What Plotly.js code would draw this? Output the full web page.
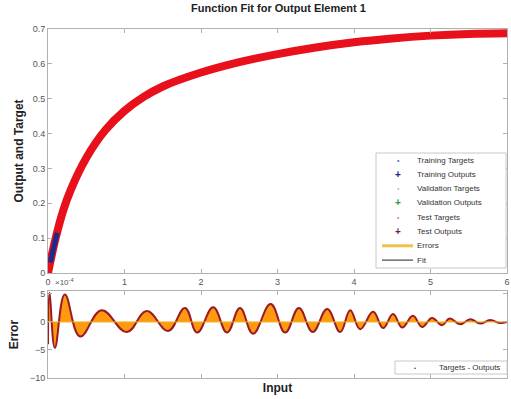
<!DOCTYPE html>
<html><head><meta charset="utf-8">
<script src="https://cdn.plot.ly/plotly-3.0.1.min.js"></script>
<style>html,body{margin:0;padding:0;background:#fff}#c{width:511px;height:399px}</style>
</head><body><div id="c"></div>
<script>
// Fit curve
const fitX = [0, 0.1, 0.2, 0.3, 0.5, 0.75, 1, 1.25, 1.5, 2, 2.5, 3, 3.5, 4, 4.5, 5, 5.5, 6];
const fitY = [0, 0.1, 0.18, 0.24, 0.33, 0.41, 0.465, 0.505, 0.535, 0.575, 0.605, 0.628, 0.647, 0.662, 0.673, 0.681, 0.686, 0.688];
// Training points visible near the origin
const trainX = [0.03, 0.06, 0.09, 0.12];
const trainY = [0.03, 0.06, 0.09, 0.115];
// Error extrema (x, error in 1e-4)
const errX = [0, 0.02, 0.09, 0.22, 0.42, 0.70, 1.03, 1.29, 1.57, 1.79, 1.95, 2.16, 2.34, 2.51, 2.68, 2.91, 3.10, 3.28, 3.46, 3.65, 3.82, 3.95, 4.08, 4.25, 4.38, 4.51, 4.63, 4.77, 4.89, 5.02, 5.15, 5.25, 5.39, 5.52, 5.65, 5.78, 5.91, 6];
const errY = [-4, 5.2, -4.6, 4.9, -2.6, 2.1, -1.8, 1.95, -1.6, 2.5, -1.9, 2.6, -1.9, 2.5, -2.1, 3.2, -1.9, 2.5, -1.8, 2.3, -1.8, 2.1, -1.3, 1.8, -1.1, 1.4, -1.0, 1.1, -0.9, 0.7, -0.6, 0.6, -0.4, 0.5, -0.3, 0.35, -0.2, 0];
const xTicks = [0, 1, 2, 3, 4, 5, 6];
const yTicks = [0, 0.1, 0.2, 0.3, 0.4, 0.5, 0.6, 0.7];
const eTicks = [-10, -5, 0, 5];
// Legend entries
const legNames = ['Training Targets', 'Training Outputs', 'Validation Targets', 'Validation Outputs', 'Test Targets', 'Test Outputs', 'Errors', 'Fit'];
const legSyms = ['•', '+', '•', '+', '•', '+', 'line', 'line'];
const legColors = ['#3f6fd6', '#1c237e', '#8fd8c0', '#2e9b3e', '#f08060', '#6a1e5a', '#efc24a', '#222'];
const leg2Name = 'Targets - Outputs';

const traces = [
  {x: fitX, y: fitY, mode: 'lines', line: {color: '#000', width: 1}, xaxis: 'x', yaxis: 'y'},
  {x: fitX, y: fitY, mode: 'lines', line: {color: '#e8101a', width: 8, shape: 'spline'}, xaxis: 'x', yaxis: 'y'},
  {x: trainX, y: trainY, mode: 'lines', line: {color: '#1c2a8c', width: 5}, xaxis: 'x', yaxis: 'y'},
  {x: errX, y: errY, mode: 'lines', fill: 'tozeroy', fillcolor: '#ff9a10', line: {color: '#9a1c22', width: 2, shape: 'spline', smoothing: 1.2}, xaxis: 'x2', yaxis: 'y2'},
  {x: [0, 6], y: [0, 0], mode: 'lines', line: {color: '#edb120', width: 1}, xaxis: 'x2', yaxis: 'y2'}
];

const F = 'Liberation Sans, Arial, sans-serif';
const ax = {
  showline: true, mirror: 'allticks', linecolor: '#b0b0b0', linewidth: 1,
  ticks: 'inside', ticklen: 4, tickcolor: '#b0b0b0', zeroline: false, showgrid: false,
  tickfont: {family: F, size: 9, color: '#555'}
};
const titleFont = {family: F, size: 12, color: '#222'};

// paper coordinate helpers (plot area: x 48..507, y 29..378 px)
const px = v => (v - 48) / 459;
const py = v => (378 - v) / 349;

const shapes = [
  {type: 'rect', xref: 'paper', yref: 'paper', x0: px(376), x1: px(506), y0: py(268), y1: py(153), fillcolor: '#fff', line: {color: '#c8c8c8', width: 1}},
  {type: 'rect', xref: 'paper', yref: 'paper', x0: px(395), x1: px(507), y0: py(374), y1: py(361), fillcolor: '#fff', line: {color: '#c8c8c8', width: 1}}
];
const annotations = [
  {xref: 'paper', yref: 'paper', x: 0.01, y: 0.255, xanchor: 'left', yanchor: 'bottom', showarrow: false,
   text: '×10<sup>-4</sup>', font: {family: F, size: 8, color: '#555'}}
];
legNames.forEach((n, i) => {
  const yy = 160 + i * 14.3;
  annotations.push({xref: 'paper', yref: 'paper', x: px(415), y: py(yy), xanchor: 'left', yanchor: 'middle', showarrow: false,
    text: n, font: {family: F, size: 8, color: '#333'}});
  if (legSyms[i] === 'line') {
    shapes.push({type: 'line', xref: 'paper', yref: 'paper', x0: px(382), x1: px(413), y0: py(yy), y1: py(yy),
      line: {color: legColors[i], width: i === 6 ? 3 : 1}});
  } else {
    annotations.push({xref: 'paper', yref: 'paper', x: px(398), y: py(yy), xanchor: 'center', yanchor: 'middle', showarrow: false,
      text: legSyms[i] === '+' ? '<b>+</b>' : '•', font: {family: F, size: legSyms[i] === '+' ? 10 : 7, color: legColors[i]}});
  }
});
annotations.push({xref: 'paper', yref: 'paper', x: px(437), y: py(367.5), xanchor: 'left', yanchor: 'middle', showarrow: false,
  text: leg2Name, font: {family: F, size: 8, color: '#333'}});
annotations.push({xref: 'paper', yref: 'paper', x: px(415), y: py(367.5), xanchor: 'center', yanchor: 'middle', showarrow: false,
  text: '•', font: {family: F, size: 6, color: '#a02020'}});

const layout = {
  width: 511, height: 399,
  margin: {l: 48, r: 4, t: 29, b: 21},
  paper_bgcolor: '#fff', plot_bgcolor: '#fff',
  showlegend: false,
  title: {text: '<b>Function Fit for Output Element 1</b>', x: 0.545, xanchor: 'center', y: 0.99, yanchor: 'top',
          font: {family: F, size: 11, color: '#222'}},
  xaxis: Object.assign({}, ax, {domain: [0, 1], range: [0, 6], tickvals: xTicks, anchor: 'y'}),
  yaxis: Object.assign({}, ax, {domain: [0.301, 1], range: [0, 0.7], tickvals: yTicks, anchor: 'x',
          title: {text: '<b>Output and Target</b>', standoff: 6, font: titleFont}}),
  xaxis2: Object.assign({}, ax, {domain: [0, 1], range: [0, 6], tickvals: xTicks, anchor: 'y2', showticklabels: false,
          title: {text: '<b>Input</b>', standoff: 5, font: titleFont}}),
  yaxis2: Object.assign({}, ax, {domain: [0, 0.249], range: [-10, 5.5], tickvals: eTicks, anchor: 'x2',
          title: {text: '<b>Error</b>', standoff: 8, font: titleFont}}),
  shapes: shapes,
  annotations: annotations
};
Plotly.newPlot('c', traces, layout, {displayModeBar: false, staticPlot: true});
</script>
</body></html>
